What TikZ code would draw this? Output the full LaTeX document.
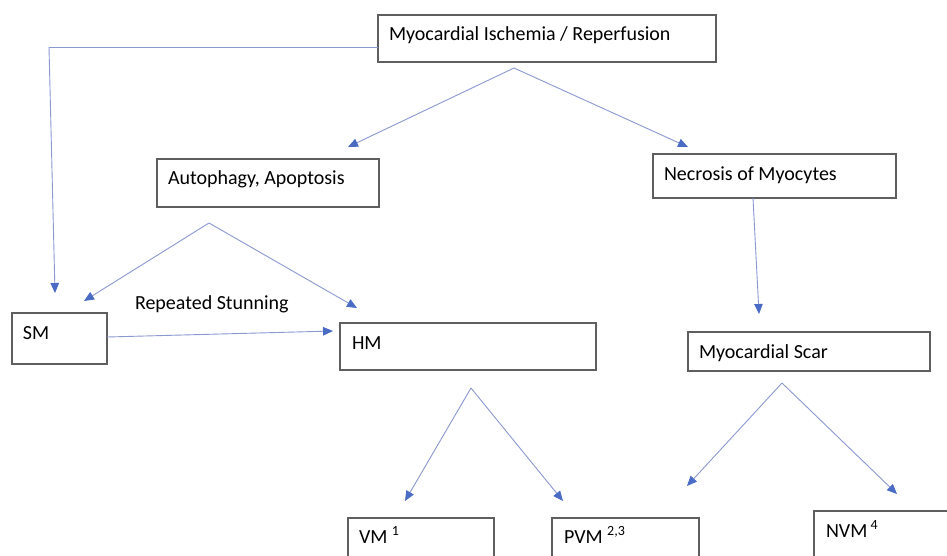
\documentclass[tikz,border=0pt]{standalone}
\usepackage{fontspec}
\setmainfont{Carlito}
\usetikzlibrary{arrows.meta}
\definecolor{boxc}{HTML}{5F5F5F}
\definecolor{linec}{HTML}{8C98D0}
\definecolor{tipc}{HTML}{4A6CC4}
\begin{document}
\begin{tikzpicture}[x=1pt,y=-1pt,font=\fontsize{20}{24}\selectfont,
  box/.style={draw=boxc,line width=1.1pt,anchor=north west,inner sep=0pt,outer sep=0pt},
  txt/.style={anchor=base west,inner sep=0pt,outer sep=0pt},
  conn/.style={draw=linec,line width=0.9pt},
  arr/.style={conn,-{Triangle[length=10pt,width=8.5pt,color=tipc,fill=tipc]}}]
\useasboundingbox (0,0) rectangle (947,555);
\clip (0,0) rectangle (947,555);
\fill[white] (0,0) rectangle (947,555);
% boxes
\node[box,minimum width=338pt,minimum height=47pt] (top) at (378,15) {};
\node[box,minimum width=222pt,minimum height=48pt] (aut) at (157,159) {};
\node[box,minimum width=243pt,minimum height=44pt] (nec) at (653,154) {};
\node[box,minimum width=95pt,minimum height=51pt] (sm) at (12,313) {};
\node[box,minimum width=256pt,minimum height=47pt] (hm) at (340,323) {};
\node[box,minimum width=242pt,minimum height=39pt] (scar) at (688,332) {};
\node[box,minimum width=146pt,minimum height=60pt] (vm) at (348,518) {};
\node[box,minimum width=147pt,minimum height=60pt] (pvm) at (552,518) {};
\node[box,minimum width=160pt,minimum height=60pt] (nvm) at (814,511) {};
% texts
\node[txt] (ttop) at (389,40) {Myocardial Ischemia / Reperfusion};
\node[txt] (taut) at (168,184) {Autophagy, Apoptosis};
\node[txt] (tnec) at (664,180) {Necrosis of Myocytes};
\node[txt] (tsm) at (23,339) {SM};
\node[txt] (thm) at (352,349) {HM};
\node[txt] (tscar) at (699,358) {Myocardial Scar};
\node[txt] (tvm) at (359,543) {VM \textsuperscript{1}};
\node[txt] (tpvm) at (564,543) {PVM \textsuperscript{2,3}};
\node[txt] (tnvm) at (826,537) {NVM\,\textsuperscript{4}};
\node[txt] (rep) at (135,309) {Repeated Stunning};
% free coordinates
\coordinate (bend) at (49,47);
\coordinate (smtip) at (55,293);
\coordinate (apx1) at (514,68);
\coordinate (auttip) at (348,147);
\coordinate (nectip) at (688,147);
\coordinate (apx2) at (209,223);
\coordinate (smtip2) at (84,301);
\coordinate (hmtip1) at (357,308);
\coordinate (hmtip2) at (333,331);
\coordinate (scartip) at (759,314);
\coordinate (apx3) at (471,388);
\coordinate (vmtip) at (405,501);
\coordinate (pvmtip) at (563,501);
\coordinate (apx4) at (782,383);
\coordinate (pvmtip2) at (687,486);
\coordinate (nvmtip) at (897,494);
% connectors
\draw[conn] ([yshift=-8.5pt]top.west) -- (bend);
\draw[arr] (bend) -- (smtip);
\draw[arr] (apx1) -- (auttip);
\draw[arr] (apx1) -- (nectip);
\draw[arr] (apx2) -- (smtip2);
\draw[arr] (apx2) -- (hmtip1);
\draw[arr] ([yshift=1.5pt]sm.east) -- (hmtip2);
\draw[arr] ([xshift=-21.5pt]nec.south) -- (scartip);
\draw[arr] (apx3) -- (vmtip);
\draw[arr] (apx3) -- (pvmtip);
\draw[arr] (apx4) -- (pvmtip2);
\draw[arr] (apx4) -- (nvmtip);
\end{tikzpicture}
\end{document}
